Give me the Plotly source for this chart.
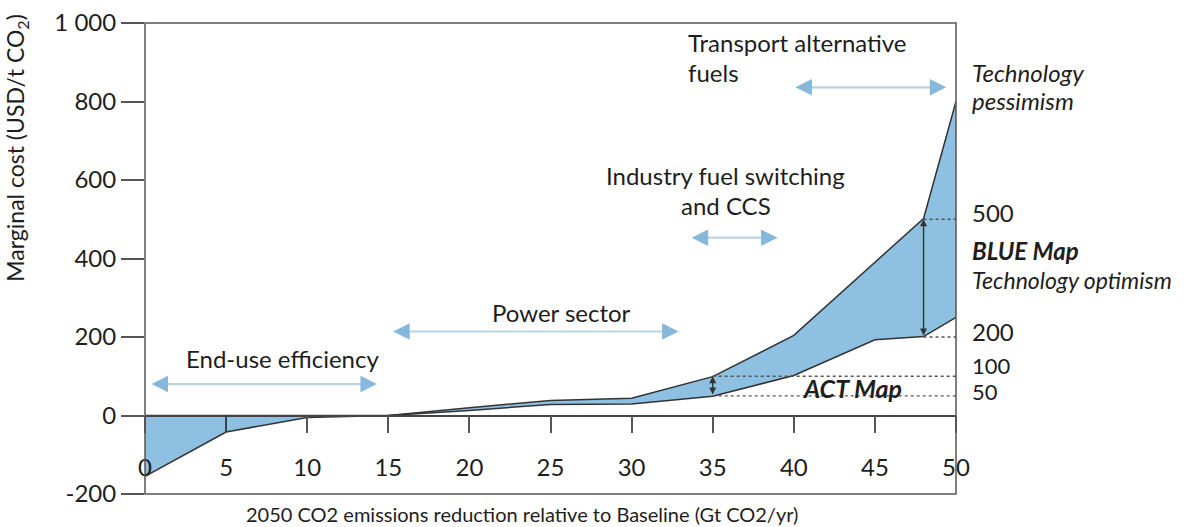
import plotly.graph_objects as go

# emissions reduction (Gt CO2/yr) and marginal cost bounds (USD/t CO2)
reduction = [0, 5, 10, 15, 20, 25, 30, 35, 40, 45, 48, 50]
cost_optimism = [-155, -42, -5, 0, 13, 28, 29, 49, 102, 193, 201, 250]
cost_pessimism = [0, 0, 0, 0, 20, 38, 44, 99, 204, 390, 502, 800]

x_ticks = [0, 5, 10, 15, 20, 25, 30, 35, 40, 45, 50]
y_ticks = [-200, 0, 200, 400, 600, 800, 1000]
y_tick_labels = ["-200", "0", "200", "400", "600", "800", "1 000"]

# sector ranges: (name, x start, x end, arrow level)
sectors = [
    ("End-use efficiency", 0.4, 14.3, 80),
    ("Power sector", 15.3, 32.9, 214),
    ("Industry fuel switching", 33.7, 39.0, 453),
    ("Transport alternative fuels", 40.1, 49.4, 836),
]

# cost levels marked on the right-hand side
act_levels = [50, 100]
blue_levels = [200, 500]

FONT = "Lato, 'Open Sans', sans-serif"
INK = "#1e1e1e"
LINE = "#333333"
FILL = "#8ec0e1"
SHAFT = "#bcd3e1"
HEAD = "#86b8dc"

fig = go.Figure()
fig.add_trace(go.Scatter(
    x=reduction, y=cost_optimism, mode="lines",
    line=dict(color=LINE, width=1.5), hoverinfo="skip", showlegend=False,
))
fig.add_trace(go.Scatter(
    x=reduction, y=cost_pessimism, mode="lines", fill="tonexty",
    fillcolor=FILL, line=dict(color=LINE, width=1.5),
    hoverinfo="skip", showlegend=False,
))

# vertical divider at x=5 inside the negative-cost area
fig.add_shape(type="line", x0=reduction[1], x1=reduction[1], y0=0,
              y1=cost_optimism[1], line=dict(color=LINE, width=1.2))

# dotted reference lines
for lvl in act_levels:
    fig.add_shape(type="line", x0=35, x1=50, y0=lvl, y1=lvl,
                  line=dict(color="#555555", width=1.3, dash="dot"))
for lvl in blue_levels:
    fig.add_shape(type="line", x0=48, x1=50, y0=lvl, y1=lvl,
                  line=dict(color="#555555", width=1.3, dash="dot"))

# double-headed spread arrows
for xv, lo, hi in [(35, act_levels[0], act_levels[1]), (48, blue_levels[0], blue_levels[1])]:
    fig.add_annotation(x=xv, y=hi, ax=xv, ay=lo, xref="x", yref="y",
                       axref="x", ayref="y", text="", showarrow=True,
                       arrowhead=2, startarrowhead=2, arrowside="end+start",
                       arrowsize=1, arrowwidth=1.4, arrowcolor=LINE)

# sector arrows: pale shaft plus blue heads
for name, x0, x1, lvl in sectors:
    fig.add_shape(type="line", x0=x0 + 0.4, x1=x1 - 0.4, y0=lvl, y1=lvl,
                  line=dict(color=SHAFT, width=2.2))
    for tip, tail in [(x1, x1 - 0.5), (x0, x0 + 0.5)]:
        fig.add_annotation(x=tip, y=lvl, ax=tail, ay=lvl, xref="x", yref="y",
                           axref="x", ayref="y", text="", showarrow=True,
                           arrowhead=2, arrowsize=1.5, arrowwidth=2.2,
                           arrowcolor=HEAD)

txt = dict(family=FONT, size=24, color=INK)
fig.add_annotation(x=8.45, y=145, text="End-use efficiency", showarrow=False, font=txt)
fig.add_annotation(x=25.65, y=262, text="Power sector", showarrow=False, font=txt)
fig.add_annotation(x=35.8, y=611, text="Industry fuel switching", showarrow=False, font=txt)
fig.add_annotation(x=35.8, y=535, text="and CCS", showarrow=False, font=txt)
fig.add_annotation(x=33.35, y=950, text="Transport alternative", showarrow=False,
                   xanchor="left", font=txt)
fig.add_annotation(x=33.35, y=874, text="fuels", showarrow=False,
                   xanchor="left", font=txt)
fig.add_annotation(x=43.6, y=71, text="<b><i>ACT Map</i></b>", showarrow=False,
                   font=dict(family=FONT, size=25, color=INK))

# right-hand labels
right = [
    (874, "<i>Technology</i>", 24),
    (803, "<i>pessimism</i>", 24),
    (517, "500", 24),
    (420, "<b><i>BLUE Map</i></b>", 24),
    (344, "<i>Technology optimism</i>", 23),
    (214, "200", 24),
    (127, "100", 22),
    (62, "50", 22),
]
for yv, label, size in right:
    fig.add_annotation(x=1.017, y=yv, xref="paper", yref="y", text=label,
                       showarrow=False, xanchor="left",
                       font=dict(family=FONT, size=size, color=INK))

# axis titles
fig.add_annotation(x=-0.158, y=0.735, xref="paper", yref="paper",
                   xanchor="center", yanchor="middle",
                   text="Marginal cost (USD/t CO<sub>2</sub>)", textangle=-90,
                   showarrow=False, font=dict(family=FONT, size=23, color=INK))
fig.add_annotation(x=0.465, y=-0.043, xref="paper", yref="paper", yanchor="middle",
                   text="2050 CO2 emissions reduction relative to Baseline (Gt CO2/yr)",
                   showarrow=False, font=dict(family=FONT, size=20, color=INK))

# frame
fig.add_shape(type="rect", xref="paper", yref="paper", x0=0, x1=1, y0=0, y1=1,
              line=dict(color="#555555", width=1.5))

fig.update_xaxes(
    range=[0, 50], tickvals=x_ticks, showgrid=False, zeroline=False,
    anchor="free", position=(0 - y_ticks[0]) / (y_ticks[-1] - y_ticks[0]),
    showline=True, linecolor="#444444", linewidth=1.5,
    ticks="outside", ticklen=17, tickwidth=1.5, tickcolor="#555555",
    ticklabelstandoff=14,
    tickfont=dict(family=FONT, size=24, color=INK),
)
fig.update_yaxes(
    range=[y_ticks[0], y_ticks[-1]], tickvals=y_ticks, ticktext=y_tick_labels,
    showgrid=False, zeroline=False, showline=False,
    ticks="outside", ticklen=23, tickwidth=1.5, tickcolor="#555555",
    tickfont=dict(family=FONT, size=24, color=INK),
)
fig.update_layout(
    width=1194, height=527,
    margin=dict(l=145, r=238, t=23, b=33, autoexpand=False),
    plot_bgcolor="white", paper_bgcolor="white",
    showlegend=False,
)

fig.write_html("out.html", config={"displayModeBar": False},
               post_script="document.body.style.margin='0';")
